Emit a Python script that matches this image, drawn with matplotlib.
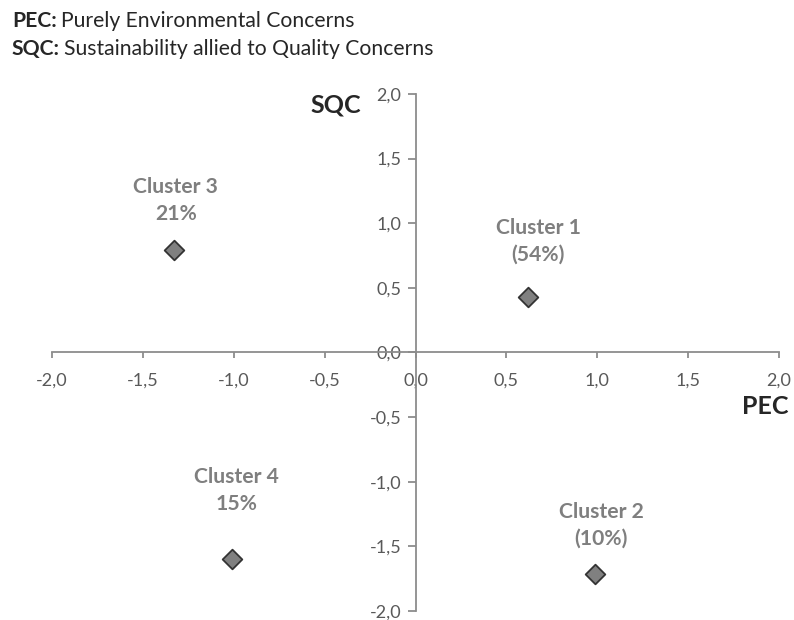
import matplotlib

matplotlib.use("Agg")
import matplotlib.pyplot as plt
from matplotlib.ticker import FuncFormatter, MultipleLocator

plt.rcParams["font.family"] = ["Lato", "DejaVu Sans"]

clusters = ["Cluster 1", "Cluster 2", "Cluster 3", "Cluster 4"]
shares = ["(54%)", "(10%)", "21%", "15%"]
pec = [0.62, 0.99, -1.33, -1.01]
sqc = [0.43, -1.71, 0.79, -1.60]

legend_keys = ["PEC:", "SQC:"]
legend_texts = ["Purely Environmental Concerns", "Sustainability allied to Quality Concerns"]

# centre of each two-line label relative to its marker, in pixels
label_offsets = [(10, 56), (6, 48), (2, 50), (5, 69)]

axis_grey = "#8c8c8c"
tick_grey = "#595959"
label_grey = "#7f7f7f"

fig = plt.figure(figsize=(7.94, 6.2), dpi=100)
ax = fig.add_axes([52 / 794, 0.0145, 727 / 794, 0.834])

ax.scatter(pec, sqc, marker="D", s=100, color="#808080", edgecolor="#333333",
           linewidth=1.3, zorder=3)

for name, share, x, y, off in zip(clusters, shares, pec, sqc, label_offsets):
    ax.annotate(f"{name}\n{share}", (x, y), xytext=off, textcoords="offset pixels",
                ha="center", va="center", fontsize=15.2, fontweight="bold",
                color=label_grey, linespacing=1.42)

ax.set_xlim(-2.0, 2.0)
ax.set_ylim(-2.0, 2.0)
for side in ["top", "right"]:
    ax.spines[side].set_visible(False)
ax.spines["left"].set_position(("data", 0))
ax.spines["bottom"].set_position(("data", 0))
for side in ["left", "bottom"]:
    ax.spines[side].set_color(axis_grey)
    ax.spines[side].set_linewidth(1.3)

fmt = FuncFormatter(lambda v, _: f"{v:.1f}".replace(".", ","))
ax.xaxis.set_major_locator(MultipleLocator(0.5))
ax.yaxis.set_major_locator(MultipleLocator(0.5))
ax.xaxis.set_major_formatter(fmt)
ax.yaxis.set_major_formatter(fmt)
ax.tick_params(axis="x", direction="out", length=4.3, width=1.3, color=axis_grey,
               labelsize=13, labelcolor=tick_grey, pad=10.5)
ax.tick_params(axis="y", direction="out", length=5.8, width=1.3, color=axis_grey,
               labelsize=13, labelcolor=tick_grey, pad=4.5)

ax.text(-0.30, 1.915, "SQC", ha="right", va="center",
        fontsize=18, fontweight="bold", color="#262626")
ax.text(2.055, -0.42, "PEC", ha="right", va="center",
        fontsize=18, fontweight="bold", color="#262626")

renderer = fig.canvas.get_renderer()
for i, (key, rest) in enumerate(zip(legend_keys, legend_texts)):
    y = 1 - (21 + 28 * i) / 620
    t = fig.text(12 / 794, y, key, fontsize=15.2, fontweight="bold", color="#262626",
                 va="center", ha="left")
    bb = t.get_window_extent(renderer)
    fig.text((bb.x1 + 4) / 794, y, rest, fontsize=15.2, color="#262626",
             va="center", ha="left")

fig.savefig("out.png", dpi=100)
